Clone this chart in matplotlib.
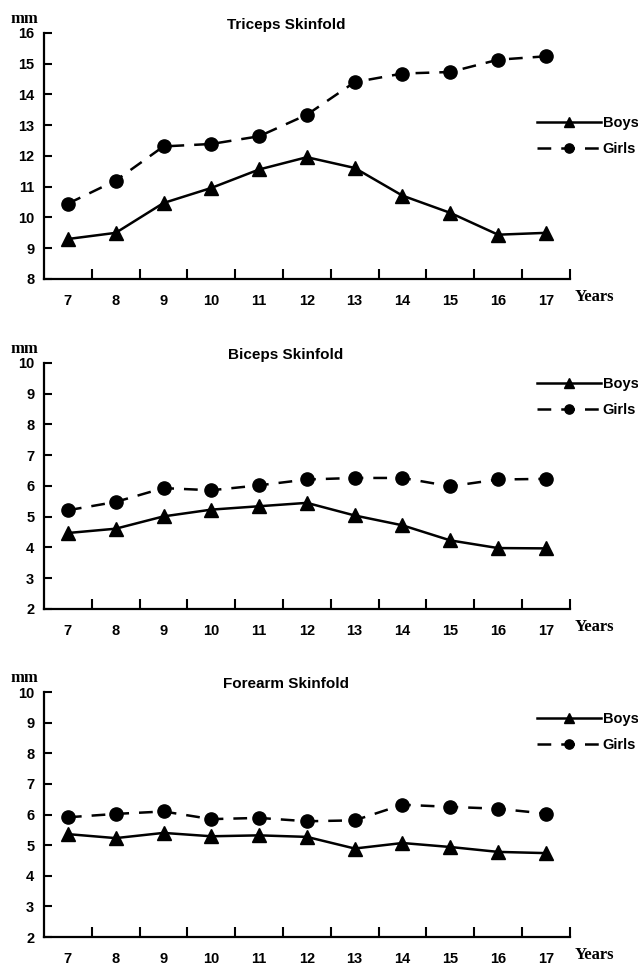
import matplotlib.pyplot as plt
import numpy as np

years = [7, 8, 9, 10, 11, 12, 13, 14, 15, 16, 17]

triceps_boys = [9.3, 9.5, 10.47, 10.96, 11.56, 11.96, 11.61, 10.71, 10.15, 9.44, 9.5]
triceps_girls = [10.45, 11.2, 12.31, 12.39, 12.64, 13.34, 14.4, 14.68, 14.73, 15.13, 15.24]

biceps_boys = [4.47, 4.61, 5.01, 5.23, 5.34, 5.45, 5.04, 4.72, 4.23, 3.98, 3.97]
biceps_girls = [5.21, 5.48, 5.93, 5.86, 6.02, 6.21, 6.26, 6.26, 5.99, 6.21, 6.23]

forearm_boys = [5.36, 5.23, 5.4, 5.29, 5.32, 5.27, 4.89, 5.07, 4.94, 4.78, 4.74]
forearm_girls = [5.91, 6.02, 6.1, 5.85, 5.89, 5.78, 5.81, 6.32, 6.25, 6.19, 6.03]

panels = [
    ("Triceps Skinfold", triceps_boys, triceps_girls, (8, 16)),
    ("Biceps Skinfold", biceps_boys, biceps_girls, (2, 10)),
    ("Forearm Skinfold", forearm_boys, forearm_girls, (2, 10)),
]

# axes boxes in figure fractions: left, bottom, width, height
boxes = [
    (0.0690, 0.7112, 0.824, 0.2547),
    (0.0690, 0.3696, 0.824, 0.2547),
    (0.0690, 0.0300, 0.824, 0.2536),
]
# vertical anchor of each legend, in axes fractions
legend_y = [0.686, 0.968, 0.943]

fig = plt.figure(figsize=(6.38, 9.66), dpi=100)
sans = "Liberation Sans"
serif = "Liberation Serif"

for (title, boys, girls, ylim), box, ly in zip(panels, boxes, legend_y):
    ax = fig.add_axes(box)
    ax.plot(years, boys, color="black", lw=1.8, marker="^", ms=9.5,
            label="Boys")
    ax.plot(years, girls, color="black", lw=1.8, marker="o", ms=9.5,
            dashes=(5.5, 4), label="Girls")

    ax.set_xlim(6.5, 17.5)
    ax.set_ylim(*ylim)
    for s in ("top", "right"):
        ax.spines[s].set_visible(False)
    for s in ("left", "bottom"):
        ax.spines[s].set_linewidth(1.6)

    ax.set_xticks(years)
    ax.set_xticklabels([str(y) for y in years], fontfamily=sans,
                       fontweight="bold", fontsize=10.5)
    ax.set_xticks(np.arange(7.5, 18, 1), minor=True)
    ax.tick_params(axis="x", which="major", length=0, pad=11)
    ax.tick_params(axis="x", which="minor", direction="in", length=7.5,
                   width=1.5)
    ax.set_yticks(range(ylim[0], ylim[1] + 1))
    ax.set_yticklabels([str(v) for v in range(ylim[0], ylim[1] + 1)],
                       fontfamily=sans, fontweight="bold", fontsize=10.5)
    ax.tick_params(axis="y", direction="in", length=6, width=1.5, pad=7)

    ax.text(0.46, 1.033, title, transform=ax.transAxes, ha="center",
            va="center", fontfamily=sans, fontweight="bold", fontsize=11)
    ax.text(-0.064, 1.025, "mm", transform=ax.transAxes, ha="left",
            va="bottom", fontfamily=serif, fontweight="bold", fontsize=12)
    ax.text(1.01, -0.075, "Years", transform=ax.transAxes, ha="left",
            va="center", fontfamily=serif, fontweight="bold", fontsize=12)

    ax.legend(loc="upper left", bbox_to_anchor=(0.927, ly),
              frameon=False, handlelength=4.4, handletextpad=0.1,
              labelspacing=0.85, borderaxespad=0, markerscale=0.7,
              prop={"family": sans, "weight": "bold", "size": 10.5})

fig.savefig("out.png", dpi=100, facecolor="white")
